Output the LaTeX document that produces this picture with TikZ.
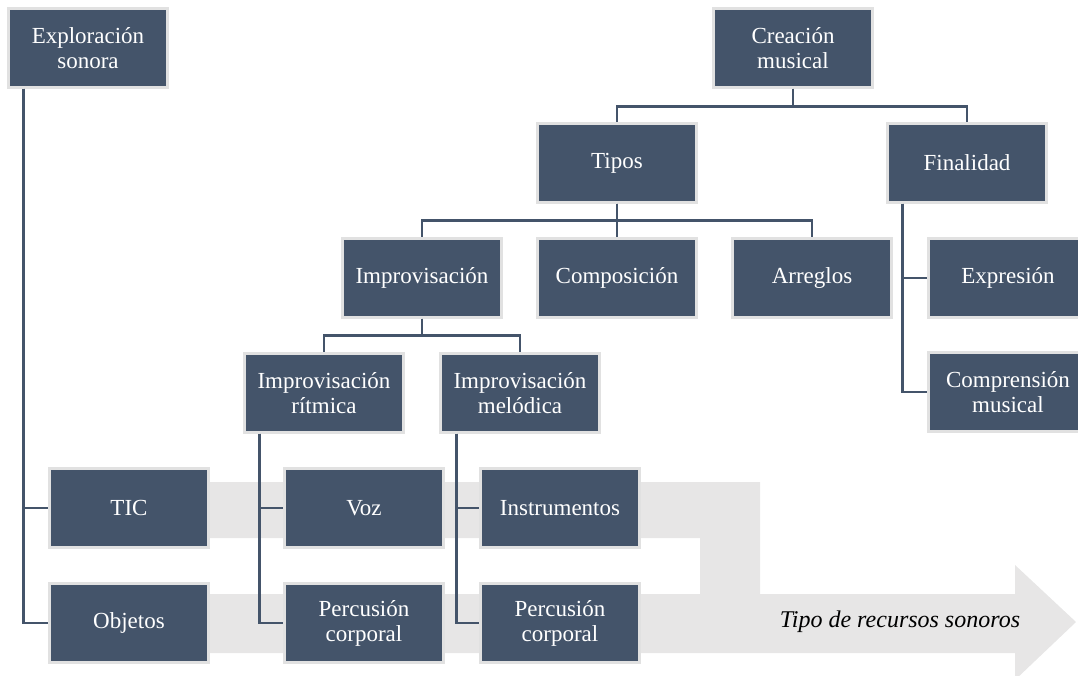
\documentclass[tikz,border=0pt]{standalone}
\usepackage{fontspec}
\setmainfont{Liberation Serif}
\definecolor{boxfill}{HTML}{44546A}
\definecolor{boxedge}{HTML}{E1E1E1}
\definecolor{band}{HTML}{E7E6E6}
\begin{document}
\begin{tikzpicture}[x=1pt,y=-1pt,
  box/.style={rectangle, fill=boxfill, draw=boxedge, line width=2.4pt,
    minimum width=159pt, minimum height=79pt, inner sep=2pt,
    text=white, align=center,
    font=\fontsize{23}{25}\selectfont},
  link/.style={draw=boxfill, line width=2.6pt}]
\useasboundingbox (0,0) rectangle (1078,676);

% wide grey arrow for the kind of sound resources
\fill[band] (130,482) -- (760,482) -- (760,594) -- (1015,594) -- (1015,565)
  -- (1076,622) -- (1015,680) -- (1015,653) -- (130,653) -- (130,594)
  -- (700,594) -- (700,538) -- (130,538) -- cycle;
\node[font=\itshape\fontsize{24}{26}\selectfont, anchor=center] (tipo) at (900,622) {Tipo de recursos sonoros};

% boxes
\node[box] (expl)  at (88,48)   {Exploración\\sonora};
\node[box] (crea)  at (793,48)  {Creación\\musical};
\node[box] (tipos) at (617,163) {Tipos};
\node[box] (fin)   at (967,163) {Finalidad};
\node[box] (impro) at (422,278) {Improvisación};
\node[box] (compo) at (617,278) {Composición};
\node[box] (arre)  at (812,278) {Arreglos};
\node[box] (expre) at (1008,278) {Expresión};
\node[box] (ritm)  at (324,393) {Improvisación\\rítmica};
\node[box] (melo)  at (520,393) {Improvisación\\melódica};
\node[box] (compr) at (1008,392) {Comprensión\\musical};
\node[box] (tic)   at (129,508) {TIC};
\node[box] (obj)   at (129,623) {Objetos};
\node[box] (voz)   at (364,508) {Voz};
\node[box] (percA) at (364,623) {Percusión\\corporal};
\node[box] (instr) at (560,508) {Instrumentos};
\node[box] (percB) at (560,623) {Percusión\\corporal};

% tree connectors
\draw[link] (crea.south) -- ++(0,18) -| (tipos.north);
\draw[link] (crea.south) -- ++(0,18) -| (fin.north);
\draw[link] (tipos.south) -- ++(0,17) -| (impro.north);
\draw[link] (tipos.south) -- (compo.north);
\draw[link] (tipos.south) -- ++(0,17) -| (arre.north);
\draw[link] (impro.south) -- ++(0,17) -| (ritm.north);
\draw[link] (impro.south) -- ++(0,17) -| (melo.north);

% side connectors
\draw[link] ([xshift=16pt]fin.south west) |- (expre.west);
\draw[link] ([xshift=16pt]fin.south west) |- (compr.west);
\draw[link] ([xshift=16pt]expl.south west) |- (tic.west);
\draw[link] ([xshift=16pt]expl.south west) |- (obj.west);
\draw[link] ([xshift=16pt]ritm.south west) |- (voz.west);
\draw[link] ([xshift=16pt]ritm.south west) |- (percA.west);
\draw[link] ([xshift=17pt]melo.south west) |- (instr.west);
\draw[link] ([xshift=17pt]melo.south west) |- (percB.west);
\end{tikzpicture}
\end{document}
